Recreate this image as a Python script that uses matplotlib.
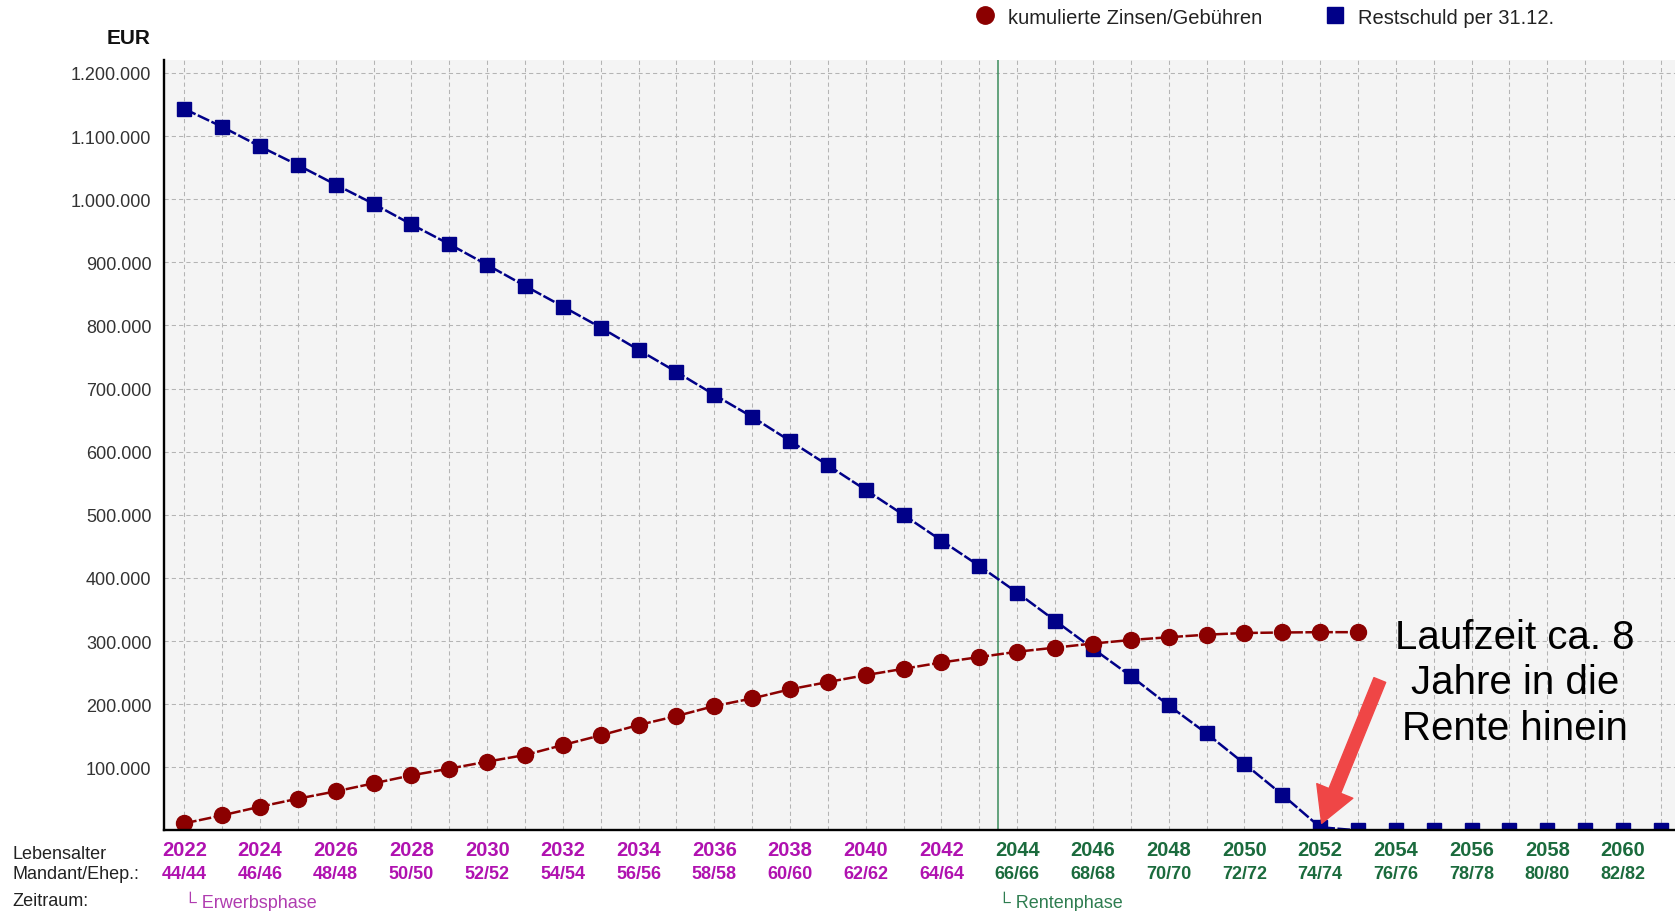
"""
Restschuld vs. kumulierte Zinsen/Gebühren eines Darlehens, 2022-2061.
Outputs: out.png
"""
import matplotlib.pyplot as plt
from matplotlib.lines import Line2D
from matplotlib.transforms import blended_transform_factory

plt.rcParams['font.family'] = ['Liberation Sans', 'DejaVu Sans']

# Restschuld per 31.12. (EUR)
jahre_rest = list(range(2022, 2063))
restschuld = [1143000, 1114600, 1083500, 1054000, 1023000, 992600, 960000,
              928700, 895900, 862600, 829900, 796600, 761200, 726300, 690000,
              655000, 617000, 578400, 539300, 499700, 459100, 418900, 376700,
              332300, 288000, 244500, 198100, 153700, 105700, 56600, 5000,
              0, 0, 0, 0, 0, 0, 0, 0, 0, 0]

# kumulierte Zinsen/Gebühren (EUR)
jahre_zins = list(range(2022, 2054))
zinsen = [11100, 23800, 37500, 50200, 61800, 74500, 87200, 97800, 108900,
          119400, 135200, 150600, 166900, 181100, 197000, 209000, 223500,
          235000, 246000, 256000, 266000, 274600, 283000, 289500, 296000,
          301600, 306000, 310000, 312700, 313500, 314000, 314000]

# Achsenbeschriftung unten: Jahr und Lebensalter Mandant/Ehepartner
label_jahre = list(range(2022, 2061, 2))
label_alter = ['44/44', '46/46', '48/48', '50/50', '52/52', '54/54', '56/56',
               '58/58', '60/60', '62/62', '64/64', '66/66', '68/68', '70/70',
               '72/72', '74/74', '76/76', '78/78', '80/80', '82/82']
rentenbeginn = 2043.5
ende_laufzeit = 2052

y_ticks = [100000, 200000, 300000, 400000, 500000, 600000,
           700000, 800000, 900000, 1000000, 1100000, 1200000]

LILA = '#b012b0'
GRUEN = '#1b6b3d'
ROT = '#8b0000'
BLAU = '#000088'

fig = plt.figure(figsize=(16.75, 9.12), dpi=100)
ax = fig.add_axes([0.0979, 0.0884, 0.9021, 0.8451])
ax.set_facecolor('#f4f4f4')

line_style = dict(linestyle=(0, (5, 1.0)), linewidth=1.8)
ax.plot(jahre_rest, restschuld, color=BLAU, marker='s', ms=10.5,
        mec=BLAU, zorder=3, **line_style)
ax.plot(jahre_zins, zinsen, color=ROT, marker='o', ms=11.5,
        mec=ROT, zorder=4, **line_style)

ax.axvline(rentenbeginn, color='#3c8c5c', lw=1.1, zorder=2)

ax.set_xlim(2021.464, 2061.374)
ax.set_ylim(0, 1221000)

ax.set_xticks(range(2022, 2062))
ax.set_xticklabels([])
ax.set_yticks(y_ticks)
ax.set_yticklabels([f'{v:,.0f}'.replace(',', '.') for v in y_ticks],
                   fontsize=13, color='#333333')
ax.tick_params(axis='both', length=0)
ax.tick_params(axis='y', pad=9)

ax.grid(True, color='#b4b4b4', linestyle=(0, (4, 3)), linewidth=0.75)
ax.set_axisbelow(True)

for side in ['top', 'right']:
    ax.spines[side].set_visible(False)
for side in ['left', 'bottom']:
    ax.spines[side].set_linewidth(1.7)
    ax.spines[side].set_color('black')
    ax.spines[side].set_zorder(5)

# Jahre und Lebensalter unter der Achse, Farbe nach Phase
trans = blended_transform_factory(ax.transData, fig.transFigure)
for jahr, alter in zip(label_jahre, label_alter):
    farbe = LILA if jahr < rentenbeginn else GRUEN
    ax.text(jahr, 1 - 851 / 912, str(jahr), transform=trans, ha='center',
            va='center', fontsize=14.5, fontweight='bold', color=farbe)
    ax.text(jahr, 1 - 875 / 912, alter, transform=trans, ha='center',
            va='center', fontsize=13, fontweight='bold', color=farbe)

ax.text(2022, 1 - 902 / 912, '\u2514 Erwerbsphase', transform=trans,
        ha='left', va='center', fontsize=13, color='#b03cb0')
ax.text(rentenbeginn, 1 - 902 / 912, '\u2514 Rentenphase', transform=trans,
        ha='left', va='center', fontsize=13, color='#2e7d50')

fig.text(12 / 1675, 1 - 855 / 912, 'Lebensalter', ha='left', va='center',
         fontsize=13, color='#222222')
fig.text(12 / 1675, 1 - 875 / 912, 'Mandant/Ehep.:', ha='left', va='center',
         fontsize=13, color='#222222')
fig.text(12 / 1675, 1 - 902 / 912, 'Zeitraum:', ha='left', va='center',
         fontsize=13, color='#222222')

fig.text(151 / 1675, 1 - 39 / 912, 'EUR', ha='right', va='center',
         fontsize=15, fontweight='bold', color='#111111')

# Legende oben rechts, nur Marker
handles = [
    Line2D([], [], ls='none', marker='o', ms=12.5, color=ROT),
    Line2D([], [], ls='none', marker='s', ms=12, color=BLAU),
]
labels = ['kumulierte Zinsen/Gebühren', 'Restschuld per 31.12.']
fig.legend(handles, labels, loc='center left',
           bbox_to_anchor=(975 / 1675, 1 - 18 / 912), ncol=2, frameon=False,
           fontsize=14.5, handlelength=1.0, handletextpad=0.65,
           columnspacing=3.1, borderpad=0, borderaxespad=0,
           labelcolor='#222222')

# Hinweis auf das Ende der Laufzeit
idx = jahre_rest.index(ende_laufzeit)
ax.annotate('', xy=(ende_laufzeit, restschuld[idx]),
            xytext=(43, 106), textcoords='offset points',
            arrowprops=dict(arrowstyle='simple,head_length=1.8,head_width=2.0,tail_width=0.65',
                            color='#ef4646', mutation_scale=14,
                            shrinkA=0, shrinkB=3),
            zorder=6)
ax.text(2057.15, 234500, 'Laufzeit ca. 8\nJahre in die\nRente hinein',
        ha='center', va='center', fontsize=29, linespacing=1.25,
        color='black', zorder=6)

plt.savefig('out.png', dpi=100)
plt.close()
